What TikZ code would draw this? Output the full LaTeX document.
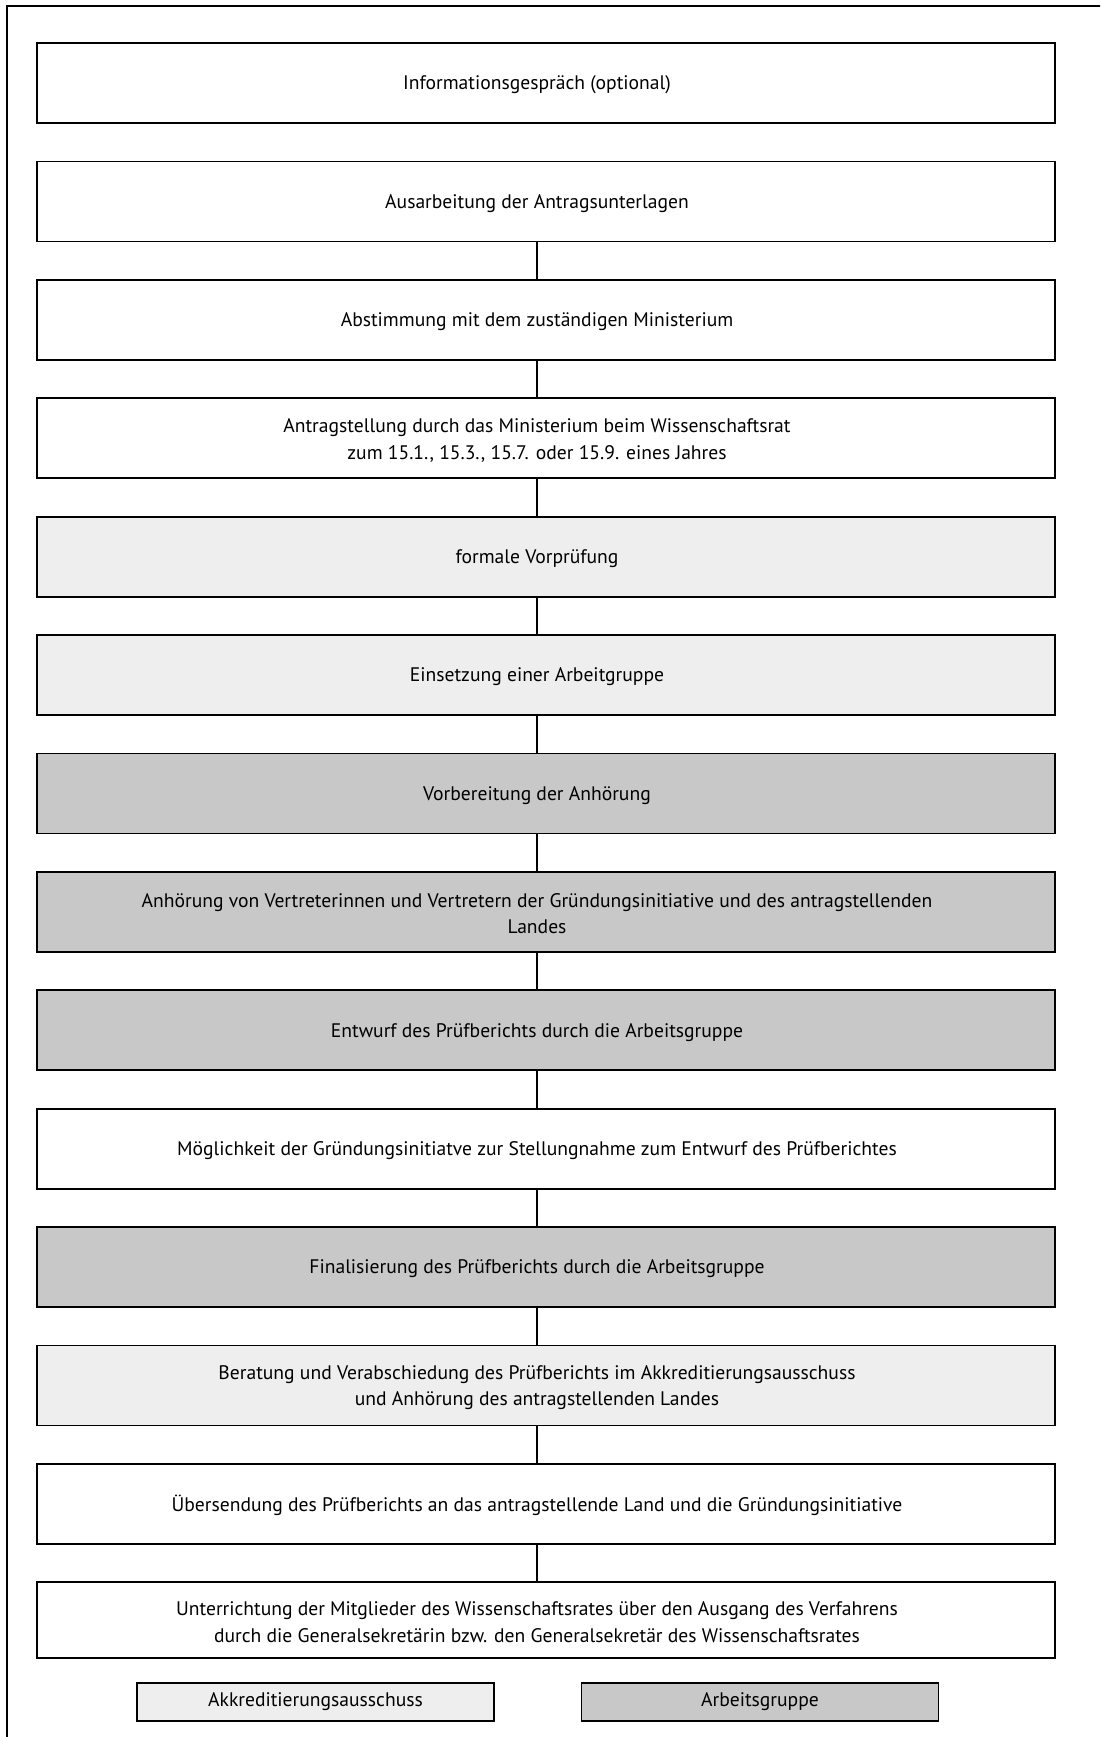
\documentclass[tikz,border=0pt]{standalone}
\usepackage{fontspec}
\setmainfont{PT Sans}
\usetikzlibrary{positioning}
\definecolor{akkgrau}{HTML}{EEEEEE}
\definecolor{aggrau}{HTML}{C8C8C8}
\tikzset{
	stepbox/.style={draw=black, line width=0.9pt, minimum width=509pt, minimum height=40pt, inner sep=0pt},
	steptext/.style={align=center, xshift=-4.5pt, yshift=-1pt, font=\fontsize{9.8}{13.3}\selectfont},
	legendbox/.style={draw=black, line width=0.9pt, minimum width=178.5pt, minimum height=19pt, inner sep=0pt, font=\fontsize{9.8}{13.3}\selectfont},
	link/.style={line width=0.7pt}
}

\begin{document}
\begin{tikzpicture}[x=0.5pt, y=-0.5pt, node distance=18.3pt]
	\useasboundingbox (0,0) rectangle (1100,1737);
	\clip (0,0) rectangle (1100,1737);
	\draw[line width=0.9pt] (7,6) rectangle (1130,1770);
	% Ablauf
	\node[stepbox, fill=white, label={[steptext]center:Informationsgespräch (optional)}] (s1) at (546,83) {};
	\node[stepbox, fill=white, below=of s1, label={[steptext]center:Ausarbeitung der Antragsunterlagen}] (s2) {};
	\node[stepbox, fill=white, below=of s2, label={[steptext]center:Abstimmung mit dem zuständigen Ministerium}] (s3) {};
	\node[stepbox, fill=white, below=of s3, label={[steptext]center:{Antragstellung durch das Ministerium beim Wissenschaftsrat\\zum 15.1., 15.3., 15.7. oder 15.9. eines Jahres}}] (s4) {};
	\node[stepbox, fill=akkgrau, below=of s4, label={[steptext]center:formale Vorprüfung}] (s5) {};
	\node[stepbox, fill=akkgrau, below=of s5, label={[steptext]center:Einsetzung einer Arbeitgruppe}] (s6) {};
	\node[stepbox, fill=aggrau, below=of s6, label={[steptext]center:Vorbereitung der Anhörung}] (s7) {};
	\node[stepbox, fill=aggrau, below=of s7, label={[steptext]center:{Anhörung von Vertreterinnen und Vertretern der Gründungsinitiative und des antragstellenden\\Landes}}] (s8) {};
	\node[stepbox, fill=aggrau, below=of s8, label={[steptext]center:Entwurf des Prüfberichts durch die Arbeitsgruppe}] (s9) {};
	\node[stepbox, fill=white, below=of s9, label={[steptext]center:Möglichkeit der Gründungsinitiatve zur Stellungnahme zum Entwurf des Prüfberichtes}] (s10) {};
	\node[stepbox, fill=aggrau, below=of s10, label={[steptext]center:Finalisierung des Prüfberichts durch die Arbeitsgruppe}] (s11) {};
	\node[stepbox, fill=akkgrau, below=of s11, label={[steptext]center:{Beratung und Verabschiedung des Prüfberichts im Akkreditierungsausschuss\\und Anhörung des antragstellenden Landes}}] (s12) {};
	\node[stepbox, fill=white, below=of s12, label={[steptext]center:Übersendung des Prüfberichts an das antragstellende Land und die Gründungsinitiative}] (s13) {};
	\node[stepbox, fill=white, minimum height=38pt, below=of s13, label={[steptext]center:{Unterrichtung der Mitglieder des Wissenschaftsrates über den Ausgang des Verfahrens\\durch die Generalsekretärin bzw. den Generalsekretär des Wissenschaftsrates}}] (s14) {};
	% Verbindungen
	\foreach \i [evaluate=\i as \j using int(\i+1)] in {2,...,13}
		\draw[link] ([xshift=-4.5pt]s\i.south) -- ([xshift=-4.5pt]s\j.north);
	% Legende
	\node[legendbox, fill=akkgrau] (leg1) at (315.5,1702) {Akkreditierungsausschuss};
	\node[legendbox, fill=aggrau] (leg2) at (760,1702) {Arbeitsgruppe};
\end{tikzpicture}
\end{document}
